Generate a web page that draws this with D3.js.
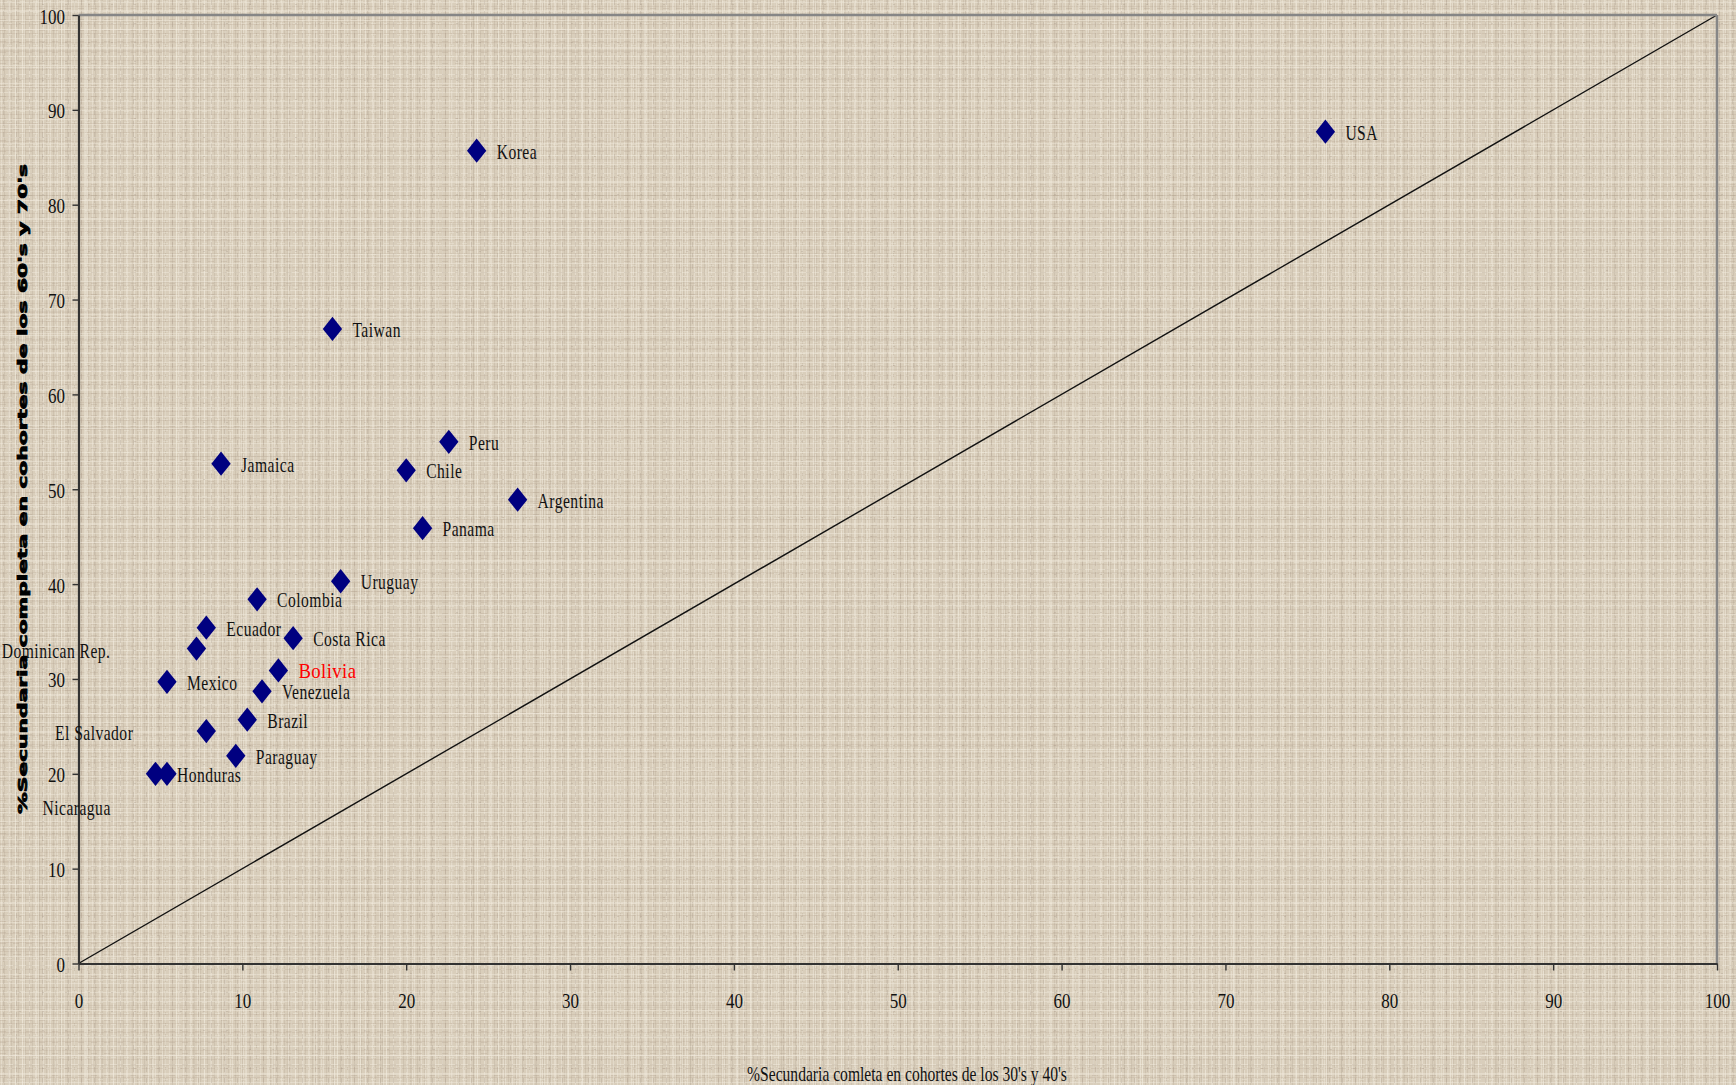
<!DOCTYPE html>
<html><head><meta charset="utf-8">
<script src="https://cdn.jsdelivr.net/npm/d3@7"></script>
<style>html,body{margin:0;padding:0;overflow:hidden;background:#d9cebb}</style>
</head><body><svg id="c" width="1736" height="1085"></svg>
<script>
// ---- data ----
const countries = ["USA","Korea","Taiwan","Peru","Chile","Jamaica","Argentina","Panama","Uruguay","Colombia","Ecuador","Dominican Rep.","Costa Rica","Bolivia","Mexico","Venezuela","Brazil","El Salvador","Paraguay","Honduras","Nicaragua"];
const xValues = [76.1,24.3,15.5,22.6,20.0,8.7,26.8,21.0,16.0,10.9,7.8,7.2,13.1,12.2,5.4,11.2,10.3,7.8,9.6,5.4,4.7];
const yValues = [87.7,85.7,66.9,55.0,52.0,52.7,48.9,45.9,40.3,38.4,35.4,33.2,34.3,30.9,29.7,28.7,25.7,24.5,21.9,20.0,20.0];
const xTicks = [0,10,20,30,40,50,60,70,80,90,100];
const yTicks = [0,10,20,30,40,50,60,70,80,90,100];
const diagonalX = [0,100];
const diagonalY = [0,100];
const xTitle = "%Secundaria comleta en cohortes de los 30's y 40's";
const yTitle = "%Secundaria completa en cohortes de los 60's y 70's";
const highlighted = "Bolivia";

// ---- label placement (pixel offsets, layout only) ----
const defaultLabel = {dx:20, dy:8, anchor:"start"};
const labelPlacement = {
  "Honduras": {dx:10, dy:8, anchor:"start"},
  "Dominican Rep.": {dx:-86, dy:9, anchor:"end"},
  "El Salvador": {dx:-73, dy:9, anchor:"end"},
  "Nicaragua": {dx:-113, dy:41, anchor:"start"}
};

const W = 1736, H = 1085;
const svg = d3.select("#c");
const defs = svg.append("defs");

// ---- linen-like background texture ----
function pat(id, w, h, rects){
  const p = defs.append("pattern").attr("id", id).attr("patternUnits","userSpaceOnUse").attr("width", w).attr("height", h);
  rects.forEach(r => p.append("rect").attr("x", r[0]).attr("y", r[1]).attr("width", r[2]).attr("height", r[3]).attr("fill", r[4]).attr("fill-opacity", r[5]));
}
const LT = "#f2ecdf", DK = "#a89784";
pat("p1", 7, 7, [[1,0,1,7,LT,0.45],[4,0,1,7,DK,0.22]]);
pat("p2", 5, 9, [[0,2,5,1,LT,0.45],[0,6,5,1,DK,0.2]]);
pat("p3", 13, 11, [[3,0,1,5,DK,0.3],[0,8,6,1,DK,0.25],[9,3,1,8,LT,0.45],[7,1,5,1,LT,0.35]]);
pat("p4", 23, 19, [[0,10,23,1,LT,0.4],[15,0,1,19,LT,0.35],[19,4,2,1,DK,0.3]]);
pat("p5", 31, 29, [[0,21,31,1,DK,0.15],[8,0,1,29,DK,0.15],[24,0,1,29,LT,0.3]]);
svg.append("rect").attr("width", W).attr("height", H).attr("fill", "#d9cebb");
["p1","p2","p3","p4","p5"].forEach(id => svg.append("rect").attr("width", W).attr("height", H).attr("fill", `url(#${id})`));

// ---- scales ----
const x = d3.scaleLinear().domain([0,100]).range([78.5, 1717]);
const y = d3.scaleLinear().domain([0,100]).range([963.5, 15]);

const serif = "'Liberation Serif','Times New Roman',serif";

// ---- diagonal reference line ----
const line = d3.line().x(d => x(d[0])).y(d => y(d[1]));
svg.append("path")
  .datum(diagonalX.map((v,i) => [v, diagonalY[i]]))
  .attr("d", line).attr("fill","none").attr("stroke","#111").attr("stroke-width",1.4);

// ---- frame (top / right) ----
svg.append("line").attr("x1", x(0)).attr("x2", x(100)).attr("y1", y(100)).attr("y2", y(100))
  .attr("stroke","#868686").attr("stroke-width",2.5);
svg.append("line").attr("x1", x(100)).attr("x2", x(100)).attr("y1", y(100)).attr("y2", y(0))
  .attr("stroke","#868686").attr("stroke-width",2.5);

// ---- axes ----
const gx = svg.append("g").attr("transform", `translate(0,${y(0)})`)
  .call(d3.axisBottom(x).tickValues(xTicks).tickSize(7).tickSizeOuter(0).tickFormat(d3.format("d")));
gx.select(".domain").attr("stroke","#333").attr("stroke-width",2.2);
gx.selectAll(".tick line").attr("stroke","#333").attr("stroke-width",1.4);
gx.selectAll(".tick text").attr("y",0).attr("dy",0)
  .attr("transform","translate(0,44) scale(0.85,1)")
  .attr("fill","#111").style("font-family", serif).style("font-size","20px");

const gy = svg.append("g").attr("transform", `translate(${x(0)},0)`)
  .call(d3.axisLeft(y).tickValues(yTicks).tickSize(6).tickSizeOuter(0).tickFormat(d3.format("d")));
gy.select(".domain").attr("stroke","#333").attr("stroke-width",2.2);
gy.selectAll(".tick line").attr("stroke","#333").attr("stroke-width",1.4);
gy.selectAll(".tick text").attr("x",0).attr("dy","0.4em")
  .attr("transform","translate(-13.5,0) scale(0.85,1)")
  .attr("fill","#111").style("font-family", serif).style("font-size","20px");

// ---- points ----
const data = countries.map((c,i) => ({name:c, x:xValues[i], y:yValues[i]}));
const diamond = d3.symbol().type(d3.symbolDiamond).size(170);
svg.append("g").selectAll("path").data(data).join("path")
  .attr("d", diamond)
  .attr("transform", d => `translate(${x(d.x)},${y(d.y)}) scale(1.38,1)`)
  .attr("fill","#000080");

// ---- labels ----
svg.append("g").selectAll("text").data(data).join("text")
  .attr("transform", d => {
    const p = labelPlacement[d.name] || defaultLabel;
    const s = d.name === highlighted ? 0.85 : 0.78;
    return `translate(${x(d.x) + p.dx},${y(d.y) + p.dy}) scale(${s},1)`;
  })
  .attr("text-anchor", d => (labelPlacement[d.name] || defaultLabel).anchor)
  .style("font-family", serif)
  .style("font-size", d => d.name === highlighted ? "22px" : "20px")
  .style("letter-spacing", d => d.name === highlighted ? "0.5px" : "0.6px")
  .attr("fill", d => d.name === highlighted ? "#ff0000" : "#111")
  .text(d => d.name);

// ---- axis titles ----
const xt = svg.append("text").attr("text-anchor","middle")
  .style("font-family", serif).style("font-size","20px").attr("fill","#111").text(xTitle);
const xtLen = xt.node().getComputedTextLength();
xt.attr("transform", `translate(907,1081) scale(${320/xtLen},1)`);

svg.append("text")
  .attr("transform","translate(27,489) rotate(-90)")
  .attr("text-anchor","middle")
  .attr("textLength", 650).attr("lengthAdjust","spacingAndGlyphs")
  .style("font-family", "'DejaVu Sans',sans-serif").style("font-weight","bold").style("font-size","13px")
  .attr("fill","#000").attr("stroke","#000").attr("stroke-width",0.8)
  .text(yTitle);
</script></body></html>
